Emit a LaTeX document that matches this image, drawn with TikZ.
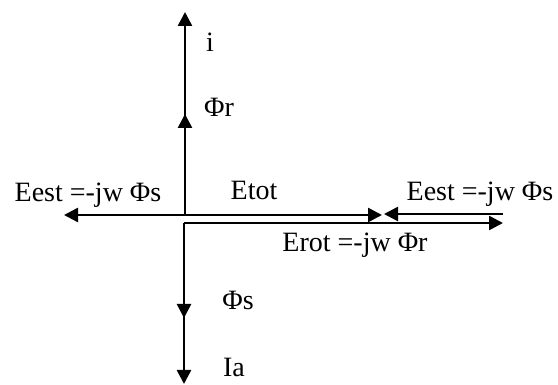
\documentclass[tikz,border=0pt]{standalone}
\usepackage{fontspec}
\setmainfont{Liberation Serif}
\usetikzlibrary{arrows.meta}
\begin{document}
\begin{tikzpicture}[x=1pt,y=-1pt,
  vec/.style={line width=2.5pt,-{Triangle[length=14pt,width=14pt]}},
  lbl/.style={font=\fontsize{28}{32}\selectfont,inner sep=0pt}]
\useasboundingbox (0,0) rectangle (558,385);
\coordinate (O) at (185,215);
\coordinate (O2) at (184,223);
\coordinate (Ri) at (185,12);
\coordinate (Rphr) at (185,114);
\coordinate (Lest) at (64,215);
\coordinate (Etot) at (382,215);
\coordinate (Rs) at (503,214);
\coordinate (Re) at (384,214);
\coordinate (Erot) at (503,223);
\coordinate (Phs) at (184,318);
\coordinate (Ia) at (184,384);
\draw[vec] (O) -- (Ri);
\draw[vec] (O) -- (Rphr);
\draw[vec] (O) -- (Lest);
\draw[vec] (O) -- (Etot);
\draw[vec] (Rs) -- (Re);
\draw[vec] (O2) -- (Erot);
\draw[vec] (O2) -- (Phs);
\draw[vec] (O2) -- (Ia);
\node[lbl] (ti) at (210,42) {i};
\node[lbl] (tphr) at (219,107) {Φr};
\node[lbl] (tel) at (88,195) {Eest =-jw Φs};
\node[lbl] (tetot) at (254,190) {Etot};
\node[lbl] (ter) at (480,194) {Eest =-jw Φs};
\node[lbl] (trot) at (355,245) {Erot =-jw Φr};
\node[lbl] (tphs) at (238,300) {Φs};
\node[lbl,anchor=base] (tia) at (234,377) {Ia};
\end{tikzpicture}
\end{document}
